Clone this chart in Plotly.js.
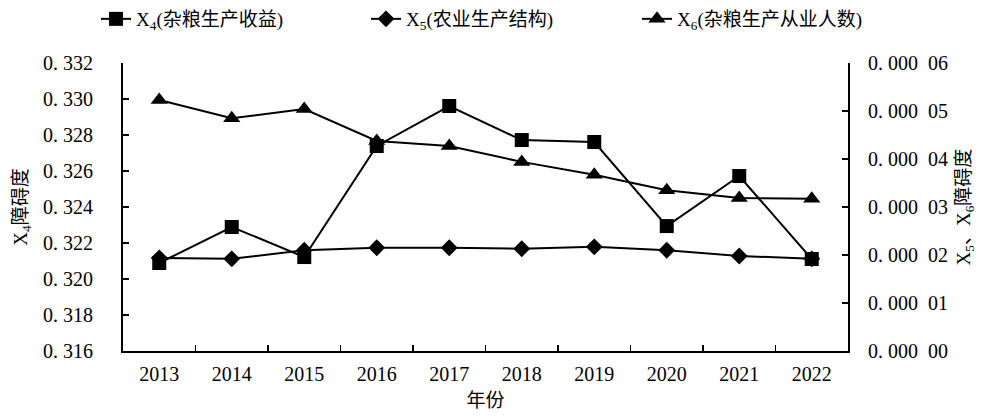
<!DOCTYPE html>
<html><head><meta charset="utf-8">
<script src="https://cdn.plot.ly/plotly-3.0.1.min.js"></script>
<style>html,body{margin:0;padding:0;background:#fff}#chart{width:983px;height:417px}</style>
</head><body><div id="chart"></div>
<script>
const years = ['2013','2014','2015','2016','2017','2018','2019','2020','2021','2022'];
const x4 = [0.32089,0.32289,0.32122,0.32739,0.32961,0.32772,0.32761,0.32294,0.32572,0.32111];
const x5 = [1.94e-5,1.92e-5,2.10e-5,2.15e-5,2.15e-5,2.13e-5,2.17e-5,2.10e-5,1.98e-5,1.92e-5];
const x6 = [5.23e-5,4.85e-5,5.04e-5,4.375e-5,4.27e-5,3.94e-5,3.67e-5,3.35e-5,3.19e-5,3.17e-5];
const leftTicks = [0.316,0.318,0.320,0.322,0.324,0.326,0.328,0.330,0.332];
const leftLabels = ['0. 316','0. 318','0. 320','0. 322','0. 324','0. 326','0. 328','0. 330','0. 332'];
const rightTicks = [0,1e-5,2e-5,3e-5,4e-5,5e-5,6e-5];
const rightLabels = ['0. 000  00','0. 000  01','0. 000  02','0. 000  03','0. 000  04','0. 000  05','0. 000  06'];
const names = ['X<sub>4</sub>(杂粮生产收益)','X<sub>5</sub>(农业生产结构)','X<sub>6</sub>(杂粮生产从业人数)'];

const font = "'Liberation Serif', 'Noto Sans CJK SC', serif";
const line = {color:'#000', width:2};
const traces = [
  {x:years, y:x4, name:names[0], type:'scatter', mode:'lines+markers', line:line,
   marker:{symbol:'square', size:14, color:'#000'}, yaxis:'y', legend:'legend'},
  {x:years, y:x5, name:names[1], type:'scatter', mode:'lines+markers', line:line,
   marker:{symbol:'diamond', size:13, color:'#000'}, yaxis:'y2', legend:'legend2'},
  {x:years, y:x6, name:names[2], type:'scatter', mode:'lines+markers', line:line,
   marker:{symbol:'triangle-up', size:15, color:'#000'}, yaxis:'y2', legend:'legend3'}
];
function leg(xpx) {
  return {orientation:'h', xref:'container', x:xpx/983, xanchor:'left', yref:'container', y:1, yanchor:'top',
          font:{family:font, size:19, color:'#000'}, bgcolor:'rgba(0,0,0,0)'};
}
const layout = {
  width:983, height:417,
  margin:{l:123, r:135, t:63, b:66},
  paper_bgcolor:'#fff', plot_bgcolor:'#fff',
  font:{family:font, size:20, color:'#000'},
  showlegend:true,
  legend:leg(96), legend2:leg(366), legend3:leg(637),
  xaxis:{type:'category', range:[-0.5, 9.5], showline:true, linecolor:'#000', linewidth:2, mirror:false,
         ticks:'inside', ticklen:6, tickcolor:'#000', tickwidth:1.5, tickson:'boundaries',
         showgrid:false, zeroline:false, ticklabelstandoff:4,
         title:{text:'年份', font:{family:font, size:19}, standoff:10}},
  yaxis:{range:[0.316,0.332], tickvals:leftTicks, ticktext:leftLabels, showline:true,
         linecolor:'#000', linewidth:2, ticks:'inside', ticklen:6, tickcolor:'#000', tickwidth:1.5,
         showgrid:false, zeroline:false, ticklabelstandoff:24,
         title:{text:'X<sub>4</sub>障碍度', font:{family:font, size:19}, standoff:10}},
  yaxis2:{range:[0,6e-5], tickvals:rightTicks, ticktext:rightLabels, overlaying:'y', side:'right',
          showline:true, linecolor:'#000', linewidth:2, ticks:'inside', ticklen:6, tickcolor:'#000',
          tickwidth:1.5, showgrid:false, zeroline:false, ticklabelstandoff:14,
          title:{text:'X<sub>5</sub>、X<sub>6</sub>障碍度', font:{family:font, size:19}, standoff:10}}
};
Plotly.newPlot('chart', traces, layout, {displayModeBar:false, staticPlot:true});
</script></body></html>
